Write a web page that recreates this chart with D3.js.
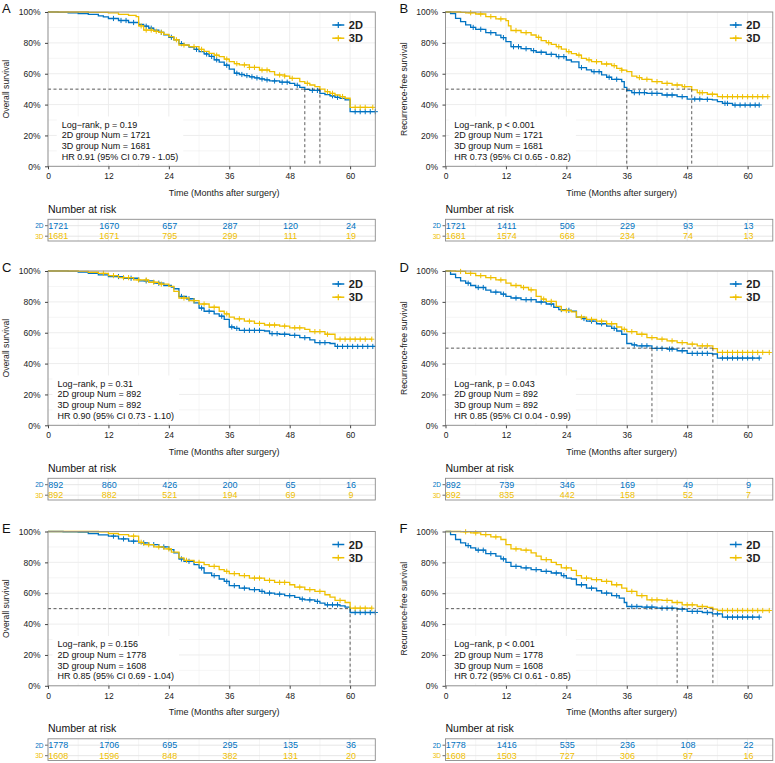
<!DOCTYPE html>
<html><head><meta charset="utf-8">
<script src="https://cdn.jsdelivr.net/npm/d3@7"></script>
<style>body{margin:0;background:#fff} text{font-family:"Liberation Sans",Arial,sans-serif}</style>
</head><body><svg id="c" width="775" height="763"></svg>
<script>
// ---------------- DATA ----------------
const groups = ["2D", "3D"];
const colors = ["#0073C2", "#EFC000"];
const panelLetters = ["A", "B", "C", "D", "E", "F"];
const yTitles = ["Overall survival", "Recurrence-free survival", "Overall survival", "Recurrence-free survival", "Overall survival", "Recurrence-free survival"];
const xTickValues = [0, 12, 24, 36, 48, 60];
const yTickValues = [0, 0.2, 0.4, 0.6, 0.8, 1.0];
const xTitle = "Time (Months after surgery)";

// step curves: [time, survival after time]
const stepsA2D = [[0,1],[2,0.998],[4,0.995],[6,0.99],[8,0.985],[10,0.975],[11,0.968],[12,0.958],[14,0.945],[16,0.932],[18,0.92],[19,0.908],[20,0.895],[21,0.882],[22,0.868],[23,0.852],[24,0.836],[25,0.82],[26,0.795],[27,0.785],[28,0.772],[29,0.758],[30,0.743],[31,0.728],[32,0.712],[33,0.69],[34,0.675],[35,0.655],[36,0.63],[37,0.603],[38,0.595],[39,0.588],[40,0.58],[41,0.573],[42,0.566],[43,0.56],[44,0.553],[46,0.545],[48,0.538],[49,0.525],[50,0.512],[51,0.499],[52,0.492],[54,0.473],[55,0.465],[56,0.457],[57,0.447],[58,0.44],[59,0.43],[60,0.354]];
const stepsA3D = [[0,1],[8,0.998],[12,0.994],[14,0.985],[16,0.978],[17.5,0.97],[18,0.91],[19,0.883],[21,0.875],[22,0.868],[23,0.855],[24,0.84],[25,0.82],[26,0.786],[28,0.775],[30,0.758],[31,0.745],[32,0.732],[33,0.72],[34,0.711],[35,0.695],[36,0.678],[37,0.665],[38,0.657],[40,0.641],[42,0.624],[44,0.613],[45,0.592],[47,0.585],[48,0.57],[50,0.549],[51,0.538],[52,0.527],[53,0.516],[54,0.5],[55,0.484],[56,0.473],[57,0.462],[58,0.452],[59,0.441],[60,0.382]];
const stepsB2D = [[0,1],[1,0.99],[2,0.959],[3,0.937],[4,0.916],[5,0.9],[6,0.888],[8,0.866],[10,0.85],[11,0.834],[12,0.808],[13,0.775],[15,0.762],[17,0.75],[18,0.739],[20,0.726],[22,0.711],[24,0.689],[25,0.677],[26.5,0.64],[28,0.625],[29,0.613],[31,0.592],[32,0.577],[33,0.564],[35,0.549],[35.5,0.512],[36,0.49],[37,0.477],[40,0.473],[43,0.462],[46,0.451],[48,0.436],[51,0.434],[53,0.43],[54,0.419],[55,0.408],[57,0.397]];
const stepsB3D = [[0,1],[3,0.998],[4,0.995],[6,0.987],[8,0.97],[10,0.955],[12,0.944],[12.5,0.91],[13,0.88],[15,0.866],[17,0.851],[18,0.836],[19,0.814],[20,0.801],[21,0.79],[22,0.775],[23,0.76],[24,0.743],[25,0.73],[26,0.721],[27,0.7],[28,0.69],[29,0.678],[31,0.663],[33,0.652],[34,0.635],[35,0.623],[36,0.613],[37,0.585],[38,0.575],[39,0.564],[41,0.549],[43,0.538],[45,0.527],[47,0.516],[48.9,0.495],[50,0.477],[52,0.467],[54,0.451]];
const stepsC2D = [[0,1],[4,0.997],[6,0.993],[8,0.985],[10,0.975],[12,0.964],[15,0.953],[18,0.936],[21,0.921],[23,0.906],[24.5,0.895],[25,0.885],[26,0.835],[27.5,0.82],[29,0.793],[30,0.76],[31,0.739],[33,0.722],[34,0.707],[35,0.686],[36,0.637],[37,0.628],[38,0.615],[43,0.611],[44,0.594],[46,0.59],[48,0.583],[50,0.568],[52,0.553],[53,0.536],[56,0.53],[57,0.511]];
const stepsC3D = [[0,1],[6,0.997],[8,0.992],[10,0.985],[12,0.97],[14,0.957],[17,0.942],[20,0.927],[22,0.915],[24,0.9],[25,0.868],[26,0.825],[28,0.808],[30,0.786],[32,0.765],[34,0.739],[35,0.722],[36,0.701],[37,0.69],[39,0.675],[41,0.66],[43,0.65],[46,0.643],[48,0.632],[51,0.622],[52,0.607],[55,0.59],[57,0.558]];
const stepsD2D = [[0,1],[1,0.979],[2,0.957],[3,0.936],[4,0.921],[5,0.906],[6,0.893],[8,0.876],[9,0.863],[11,0.85],[12,0.835],[13,0.825],[15,0.814],[18,0.799],[20,0.786],[21.5,0.765],[22.5,0.75],[24,0.745],[25,0.739],[26,0.701],[27,0.692],[28,0.675],[30,0.658],[32,0.643],[33,0.628],[34,0.611],[35,0.59],[36,0.53],[37,0.521],[38,0.515],[41,0.498],[44,0.494],[46,0.483],[48,0.466],[53,0.462],[54,0.436]];
const stepsD3D = [[0,1],[2,0.997],[4,0.985],[6,0.97],[8,0.957],[10,0.942],[12,0.921],[13,0.906],[15,0.893],[16.5,0.878],[18,0.835],[19,0.818],[20,0.803],[22,0.771],[23,0.744],[25,0.735],[26,0.701],[28,0.686],[30,0.675],[32,0.658],[34,0.637],[35,0.622],[36,0.607],[38,0.59],[40,0.568],[42,0.558],[44,0.547],[46,0.536],[48,0.526],[50,0.515],[53.1,0.497],[54,0.472]];
const stepsE2D = [[0,1],[3,0.998],[6,0.996],[8,0.987],[10,0.978],[12,0.97],[14,0.952],[16,0.937],[18,0.926],[20,0.915],[22,0.9],[24,0.883],[25,0.861],[26,0.822],[27,0.807],[29,0.785],[30,0.764],[31,0.731],[32.5,0.714],[34,0.692],[35,0.677],[36,0.649],[38,0.633],[40,0.623],[42,0.612],[43,0.601],[45,0.594],[47,0.584],[49,0.573],[50,0.562],[51,0.557],[53,0.547],[54,0.536],[55,0.525],[58,0.518],[59,0.51],[60,0.475]];
const stepsE3D = [[0,1],[10,0.998],[12,0.987],[14,0.98],[16,0.97],[18,0.93],[19,0.915],[21,0.9],[23,0.887],[24.5,0.866],[26,0.829],[27,0.813],[29,0.8],[31,0.785],[32,0.774],[34,0.753],[35,0.742],[36,0.727],[38,0.714],[40,0.698],[43,0.683],[45,0.67],[48,0.655],[49,0.64],[51,0.623],[53,0.612],[55,0.59],[56,0.575],[57,0.553],[59,0.54],[60,0.503]];
const stepsF2D = [[0,1],[1,0.98],[2,0.948],[3,0.926],[4,0.909],[5,0.894],[6,0.879],[8,0.857],[10,0.84],[11,0.822],[12,0.8],[13,0.774],[15,0.764],[17,0.753],[19,0.742],[21,0.731],[23,0.714],[24,0.698],[25,0.692],[26,0.655],[28,0.633],[30,0.616],[31,0.601],[33,0.584],[34.5,0.568],[35.5,0.54],[36,0.514],[39,0.51],[42,0.503],[46,0.497],[48,0.482],[51,0.475],[53,0.466],[55,0.445]];
const stepsF3D = [[0,1],[3,0.998],[5,0.991],[7,0.98],[9,0.965],[11,0.948],[12,0.915],[13,0.887],[15,0.879],[17,0.861],[18,0.84],[19,0.818],[21,0.8],[22,0.785],[23,0.764],[25,0.748],[26,0.714],[27,0.698],[29,0.688],[31,0.677],[33,0.655],[35,0.633],[36,0.612],[38,0.584],[40,0.557],[43,0.553],[45,0.54],[47,0.525],[50,0.514],[52,0.508],[53.1,0.497],[54,0.488]];

// follow-up end times
const endTimes = [[65, 64.5], [62.3, 64], [65, 64.3], [62.3, 64.3], [65, 64.3], [62.3, 64.3]];

// censoring times
const censA2D = [13,14.5,15.5,17,19.5,20.5,22.5,24.5,26.5,29.5,31.5,32.5,33.5,35.5,37.5,38.5,39.5,40.5,41.5,42.5,43.5,45,46.5,47.5,49.5,52.5,53.5,56.5,57.5,61,62,63,64,65];
const censA3D = [18.5,19.5,20.5,21.5,22.5,25.5,27,29,30.5,33.5,35.5,37.5,39,40,41,42.5,43.5,46,47,48.5,51.5,55.5,56.5,58.5,61,62,63,64.5];
const censB2D = [5.5,7,9,11.5,13.5,14.5,16,17.5,19,21,22.5,23.5,27,29.5,30.5,32.5,34,37.5,38.5,39.5,41,42,44,45,47,49.5,50.5,52,55.5,56,57.5,58.5,59.5,60.5,61.5,62.3];
const censB3D = [5,7,9,11,14,16,18.5,20.5,22.5,24.5,26.5,28.5,30,32,33.5,35,38.5,40,42,44,46,47.5,50.5,51,53,55,56,57,58,59,60,61,62,63,64];
const censC2D = [14,16.5,19.5,22,26.5,28,30.5,32,34.5,36.5,37.5,39,40,41,42,44.5,45.5,47,49,51,54,55,57.5,58.5,59.5,60.5,61.5,62.5,63.5,64.5];
const censC3D = [11,13,15,16,18,19.5,21,22.5,27,29,31,33,35.5,38,40,42,44,45,47,49,50,53,54,55.5,58,59,60,61,62,63,64.3];
const censD2D = [4.5,6.5,7.5,10,11.5,14,16,17,19,21,23,24.5,27.5,29,31,33.5,37.5,39,40,42,43,44.5,45,47,49,50,51,52,55,56,57,58,59,60,61,62.3];
const censD3D = [3,5,7,9,11,14,15.5,17,19.5,21,24,27,29,31,33,35.5,37,39,41,43,45,47,49,51,52,55,56,57,58,59,60,61,62,63,64.3];
const censE2D = [13,15,17,19,21,23,26.5,28,30.5,33,35.5,37,39,41,42.5,44,46,48,50.5,52,53.5,55.5,56.5,57.5,61,62,63,64,65];
const censE3D = [17,18.5,20,22,24,27.5,30,33,35.5,37,39,41,42,44,46,47,50,52,54,58,61,62,63,64.3];
const censF2D = [4.5,6.5,7.5,9,11.5,14,16,18,20,22,23.5,27,29,32,34,37,38,40,41,43,44,45,47,49,50,52,54,56,57,58,59,60,61,62.3];
const censF3D = [4,6,8,10,14,16,20,24,28,30,32,34,37,39,41,42,44,46,48,49,51,55,56,57,58,59,60,61,62,63,64.3];

// median survival times (dashed lines)
const mediansA = [51, 54];
const mediansB = [36, 48.9];
const mediansC = [];
const mediansD = [41, 53.1];
const mediansE = [60];
const mediansF = [46, 53.1];

// number at risk
const riskA2D = [1721,1670,657,287,120,24], riskA3D = [1681,1671,795,299,111,19];
const riskB2D = [1721,1411,506,229,93,13],  riskB3D = [1681,1574,668,234,74,13];
const riskC2D = [892,860,426,200,65,16],    riskC3D = [892,882,521,194,69,9];
const riskD2D = [892,739,346,169,49,9],     riskD3D = [892,835,442,158,52,7];
const riskE2D = [1778,1706,695,295,135,36], riskE3D = [1608,1596,848,382,131,20];
const riskF2D = [1778,1416,535,236,108,22], riskF3D = [1608,1503,727,306,97,16];

// annotation texts
const annoA = ["Log\u2212rank, p = 0.19", "2D group Num = 1721", "3D group Num = 1681", "HR 0.91 (95% CI 0.79 - 1.05)"];
const annoB = ["Log\u2212rank, p < 0.001", "2D group Num = 1721", "3D group Num = 1681", "HR 0.73 (95% CI 0.65 - 0.82)"];
const annoC = ["Log\u2212rank, p = 0.31", "2D group Num = 892", "3D group Num = 892", "HR 0.90 (95% CI 0.73 - 1.10)"];
const annoD = ["Log\u2212rank, p = 0.043", "2D group Num = 892", "3D group Num = 892", "HR 0.85 (95% CI 0.04 - 0.99)"];
const annoE = ["Log\u2212rank, p = 0.156", "2D group Num = 1778", "3D group Num = 1608", "HR 0.85 (95% CI 0.69 - 1.04)"];
const annoF = ["Log\u2212rank, p < 0.001", "2D group Num = 1778", "3D group Num = 1608", "HR 0.72 (95% CI 0.61 - 0.85)"];

const panels = [
  {steps:[stepsA2D,stepsA3D], cens:[censA2D,censA3D], med:mediansA, risk:[riskA2D,riskA3D], anno:annoA, annoX:13.7},
  {steps:[stepsB2D,stepsB3D], cens:[censB2D,censB3D], med:mediansB, risk:[riskB2D,riskB3D], anno:annoB, annoX:8.8},
  {steps:[stepsC2D,stepsC3D], cens:[censC2D,censC3D], med:mediansC, risk:[riskC2D,riskC3D], anno:annoC, annoX:9.5},
  {steps:[stepsD2D,stepsD3D], cens:[censD2D,censD3D], med:mediansD, risk:[riskD2D,riskD3D], anno:annoD, annoX:8.8},
  {steps:[stepsE2D,stepsE3D], cens:[censE2D,censE3D], med:mediansE, risk:[riskE2D,riskE3D], anno:annoE, annoX:9.5},
  {steps:[stepsF2D,stepsF3D], cens:[censF2D,censF3D], med:mediansF, risk:[riskF2D,riskF3D], anno:annoF, annoX:8.8}
];

// ---------------- DRAW ----------------
const svg = d3.select("#c");
const W = 327.3, H = 154.3;
const colX = [48, 445.5];
const rowY = [12, 271, 531.5];
const gridCol = "#ebebeb";

function stepValue(steps, t) {
  let v = steps[0][1];
  for (const s of steps) { if (s[0] <= t) v = s[1]; else break; }
  return v;
}

panels.forEach((p, i) => {
  const ox = colX[i % 2], oy = rowY[Math.floor(i / 2)];
  const g = svg.append("g").attr("transform", `translate(${ox},${oy})`);
  const x = d3.scaleLinear().domain([0, 65]).range([0, W]);
  const y = d3.scaleLinear().domain([0, 1]).range([H, 0]);

  // grid
  const gg = g.append("g");
  [6, 18, 30, 42, 54].forEach(v => gg.append("line").attr("x1", x(v)).attr("x2", x(v)).attr("y1", 0).attr("y2", H).attr("stroke", gridCol).attr("stroke-width", 0.5));
  [0.1, 0.3, 0.5, 0.7, 0.9].forEach(v => gg.append("line").attr("x1", 0).attr("x2", W).attr("y1", y(v)).attr("y2", y(v)).attr("stroke", gridCol).attr("stroke-width", 0.5));
  xTickValues.forEach(v => gg.append("line").attr("x1", x(v)).attr("x2", x(v)).attr("y1", 0).attr("y2", H).attr("stroke", gridCol).attr("stroke-width", 0.9));
  yTickValues.forEach(v => gg.append("line").attr("x1", 0).attr("x2", W).attr("y1", y(v)).attr("y2", y(v)).attr("stroke", gridCol).attr("stroke-width", 0.9));

  // annotation
  const ag = g.append("g");
  const bgRect = ag.append("rect").attr("fill", "#fff");
  const baseY = [115.5, 126.3, 137.1, 147.9];
  p.anno.forEach((t, k) => ag.append("text").attr("x", p.annoX).attr("y", baseY[k]).attr("font-size", 9).attr("fill", "#111").text(t));
  const bb = ag.node().getBBox();
  bgRect.attr("x", bb.x - 5).attr("y", bb.y - 3).attr("width", bb.width + 10).attr("height", bb.height + 5);

  // curves
  p.steps.forEach((st, k) => {
    const pts = st.concat([[endTimes[i][k], st[st.length - 1][1]]]);
    const line = d3.line().x(d => x(d[0])).y(d => y(d[1])).curve(d3.curveStepAfter);
    g.append("path").attr("d", line(pts)).attr("fill", "none").attr("stroke", colors[k]).attr("stroke-width", 1.3);
    const cg = g.append("g").attr("stroke", colors[k]).attr("stroke-width", 1);
    p.cens[k].forEach(c => {
      const cx = x(c), cy = y(stepValue(st, c));
      cg.append("path").attr("d", `M${cx - 2.6},${cy}H${cx + 2.6}M${cx},${cy - 2.6}V${cy + 2.6}`);
    });
  });

  // median lines
  if (p.med.length) {
    const mg = g.append("g").attr("stroke", "#333").attr("stroke-width", 0.8).attr("stroke-dasharray", "3,2.5");
    mg.append("line").attr("x1", x(0)).attr("x2", x(d3.max(p.med))).attr("y1", y(0.5)).attr("y2", y(0.5));
    p.med.forEach(m => mg.append("line").attr("x1", x(m)).attr("x2", x(m)).attr("y1", y(0.5)).attr("y2", y(0)));
  }

  // border
  g.append("rect").attr("width", W).attr("height", H).attr("fill", "none").attr("stroke", "#8c8c8c").attr("stroke-width", 0.9);

  // axes
  const yAx = g.append("g").call(d3.axisLeft(y).tickValues(yTickValues).tickFormat(d => Math.round(d * 100) + "%").tickSize(3).tickPadding(4.5));
  const xAx = g.append("g").attr("transform", `translate(0,${H})`).call(d3.axisBottom(x).tickValues(xTickValues).tickSize(3).tickPadding(4));
  [yAx, xAx].forEach(a => {
    a.select(".domain").remove();
    a.selectAll("line").attr("stroke", "#444");
    a.selectAll("text").attr("font-size", 8.5).attr("fill", "#222").attr("font-family", "Liberation Sans, Arial, sans-serif");
  });

  // titles
  g.append("text").attr("transform", `translate(-39,${H / 2}) rotate(-90)`).attr("text-anchor", "middle").attr("font-size", 8.6).attr("fill", "#222").text(yTitles[i]);
  g.append("text").attr("x", W / 2 + 12.5).attr("y", H + 29.4).attr("text-anchor", "middle").attr("font-size", 9).attr("fill", "#222").text(xTitle);
  g.append("text").attr("x", -46).attr("y", 1).attr("font-size", 13).attr("fill", "#111").text(panelLetters[i]);

  // legend
  groups.forEach((gr, k) => {
    const ly = 13 + 13.2 * k;
    g.append("line").attr("x1", W - 43).attr("x2", W - 31).attr("y1", ly).attr("y2", ly).attr("stroke", colors[k]).attr("stroke-width", 1.5);
    g.append("path").attr("d", `M${W - 40},${ly}H${W - 34}M${W - 37},${ly - 3}V${ly + 3}`).attr("stroke", colors[k]).attr("stroke-width", 1.2);
    g.append("text").attr("x", W - 26.5).attr("y", ly + 4).attr("font-size", 11).attr("font-weight", "bold").attr("fill", "#222").text(gr);
  });

  // risk table
  const tg = g.append("g").attr("transform", `translate(0,${207.3})`);
  g.append("text").attr("x", 0).attr("y", 200.7).attr("font-size", 10.5).attr("fill", "#111").text("Number at risk");
  const TH = 21.7;
  const rowC = [6.4, 16.9];
  [6, 18, 30, 42, 54].forEach(v => tg.append("line").attr("x1", x(v)).attr("x2", x(v)).attr("y1", 0).attr("y2", TH).attr("stroke", gridCol).attr("stroke-width", 0.5));
  xTickValues.forEach(v => tg.append("line").attr("x1", x(v)).attr("x2", x(v)).attr("y1", 0).attr("y2", TH).attr("stroke", gridCol).attr("stroke-width", 0.9));
  rowC.forEach(r => tg.append("line").attr("x1", 0).attr("x2", W).attr("y1", r).attr("y2", r).attr("stroke", "#e3e3e3").attr("stroke-width", 0.9));
  p.risk.forEach((vals, k) => {
    vals.forEach((v, j) => {
      tg.append("text").attr("x", x(xTickValues[j]) + (j === 0 ? 0.3 : 0.8)).attr("y", rowC[k]).attr("dy", "0.36em")
        .attr("text-anchor", j === 0 ? "start" : "middle").attr("font-size", 9).attr("fill", colors[k]).text(v);
    });
    tg.append("line").attr("x1", -3).attr("x2", 0).attr("y1", rowC[k]).attr("y2", rowC[k]).attr("stroke", "#444").attr("stroke-width", 0.8);
    tg.append("text").attr("x", -4.5).attr("y", rowC[k]).attr("dy", "0.36em").attr("text-anchor", "end").attr("font-size", 6.5).attr("fill", colors[k]).text(groups[k]);
  });
  tg.append("rect").attr("width", W).attr("height", TH).attr("fill", "none").attr("stroke", "#8c8c8c").attr("stroke-width", 0.9);
});
</script></body></html>
